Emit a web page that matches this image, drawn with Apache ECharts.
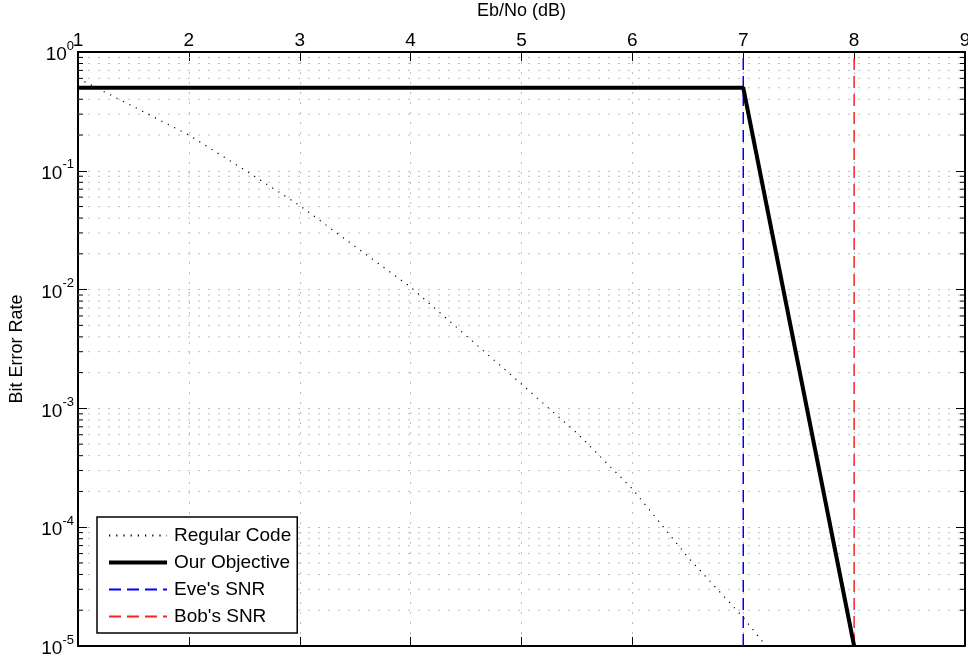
<!DOCTYPE html>
<html>
<head>
<meta charset="utf-8">
<script src="https://cdn.jsdelivr.net/npm/echarts@6/dist/echarts.min.js"></script>
<style>
  html, body { margin: 0; padding: 0; background: #fff; }
  #chart { width: 968px; height: 659px; }
</style>
</head>
<body>
<div id="chart"></div>
<script>
// data
var snr = [1, 1.5, 2, 2.5, 3, 3.5, 4, 4.5, 5, 5.5, 6, 6.5, 7, 7.5];
var regularBer = [0.6, 0.347, 0.2, 0.102, 0.051, 0.023, 0.0105, 0.0041, 0.0016, 0.00062, 0.00021, 0.000056, 0.0000174, 0.0000045];
var objectiveSnr = [1, 7, 8];
var objectiveBer = [0.5, 0.5, 0.00001];
var eveSnr = 7;
var bobSnr = 8;
var berRange = [0.00001, 1];
var decades = [-5, -4, -3, -2, -1];
var mantissas = [2, 3, 4, 5, 6, 7, 8, 9];

var minorValues = [];
decades.forEach(function (d) {
  mantissas.forEach(function (m) { minorValues.push([m * Math.pow(10, d)]); });
});

function pairs(xs, ys) {
  return xs.map(function (x, i) { return [x, ys[i]]; });
}

var font = 'Liberation Sans, Arial, Helvetica, sans-serif';
var gridDots = { color: '#bdbdbd', width: 1, type: [2, 8] };

var myChart = echarts.init(document.getElementById('chart'));

option = {
  animation: false,
  textStyle: { fontFamily: font },
  grid: { left: 78, top: 52, right: 3, bottom: 13, containLabel: false, outerBoundsMode: 'none' },
  legend: {
    data: [
      { name: 'Regular Code' },
      { name: 'Our Objective', lineStyle: { width: 4 } },
      { name: "Eve's SNR" },
      { name: "Bob's SNR" }
    ],
    orient: 'vertical',
    left: 97, top: 517,
    backgroundColor: '#fff',
    borderColor: '#000', borderWidth: 1.5,
    padding: [9, 6, 7, 10],
    itemWidth: 58, itemHeight: 14, itemGap: 8,
    itemStyle: { opacity: 0 },
    textStyle: { fontSize: 19, color: '#000', fontFamily: font, padding: [0, 0, 0, 2] }
  },
  xAxis: [
    {
      type: 'value', position: 'top', min: 1, max: 9, interval: 1,
      name: 'Eb/No (dB)', nameLocation: 'middle', nameGap: 32,
      nameTextStyle: { fontSize: 18, color: '#000' },
      axisLine: { lineStyle: { color: '#000', width: 2 } },
      axisTick: { inside: true, length: 9, lineStyle: { color: '#000', width: 1 } },
      axisLabel: { fontSize: 19, color: '#000', margin: 2 },
      splitLine: { show: true, lineStyle: gridDots }
    },
    {
      type: 'value', position: 'bottom', min: 1, max: 9, interval: 1,
      axisLine: { lineStyle: { color: '#000', width: 2 } },
      axisTick: { inside: true, length: 9, lineStyle: { color: '#000', width: 1 } },
      axisLabel: { show: false },
      splitLine: { show: false }
    }
  ],
  yAxis: [
    {
      type: 'log', logBase: 10, min: berRange[0], max: berRange[1], position: 'left',
      name: 'Bit Error Rate', nameLocation: 'middle', nameGap: 52, nameRotate: 90,
      nameTextStyle: { fontSize: 18, color: '#000' },
      axisLine: { show: true, lineStyle: { color: '#000', width: 2 } },
      axisTick: { inside: true, length: 9, lineStyle: { color: '#000', width: 1 } },
      axisLabel: {
        margin: 4, color: '#000',
        formatter: function (v) {
          return '{b|10}{s|' + Math.round(Math.log10(v)) + '}';
        },
        rich: {
          b: { fontSize: 19, color: '#000', fontFamily: font, padding: [6, 0, 0, 0] },
          s: { fontSize: 13, color: '#000', fontFamily: font, padding: [0, 0, 12, 0] }
        }
      },
      splitLine: { show: true, lineStyle: gridDots }
    },
    {
      type: 'log', logBase: 10, min: berRange[0], max: berRange[1], position: 'right',
      axisLine: { show: true, lineStyle: { color: '#000', width: 2 } },
      axisTick: { inside: true, length: 9, lineStyle: { color: '#000', width: 1 } },
      axisLabel: { show: false },
      splitLine: { show: false }
    }
  ],
  series: [
    {
      // minor log grid lines and minor ticks
      type: 'custom', name: 'minor', silent: true, z: 1,
      data: minorValues,
      encode: { y: 0 },
      renderItem: function (params, api) {
        var y = api.coord([1, api.value(0)])[1];
        var x0 = api.coord([1, 1])[0];
        var x1 = api.coord([9, 1])[0];
        var tick = { stroke: '#000', lineWidth: 1 };
        return {
          type: 'group',
          children: [
            { type: 'line', shape: { x1: x0, y1: y, x2: x1, y2: y }, style: { stroke: '#bdbdbd', lineWidth: 1, lineDash: [2, 8] } },
            { type: 'line', shape: { x1: x0, y1: y, x2: x0 + 5, y2: y }, style: tick },
            { type: 'line', shape: { x1: x1 - 5, y1: y, x2: x1, y2: y }, style: tick }
          ]
        };
      }
    },
    {
      name: 'Regular Code', type: 'line', showSymbol: false, symbol: 'none', smooth: false,
      data: pairs(snr, regularBer),
      lineStyle: { color: '#000', width: 1.2, type: [1.2, 6] },
      itemStyle: { color: '#000' }, z: 3
    },
    {
      name: "Eve's SNR", type: 'line', symbol: 'none',
      data: [[eveSnr, berRange[0]], [eveSnr, berRange[1]]],
      lineStyle: { color: '#0000ff', width: 1.5, type: [12, 6] },
      itemStyle: { color: '#0000ff' }, z: 3
    },
    {
      name: "Bob's SNR", type: 'line', symbol: 'none',
      data: [[bobSnr, berRange[0]], [bobSnr, berRange[1]]],
      lineStyle: { color: '#ff2222', width: 1.5, type: [12, 6] },
      itemStyle: { color: '#ff2222' }, z: 3
    },
    {
      name: 'Our Objective', type: 'line', symbol: 'none',
      data: pairs(objectiveSnr, objectiveBer),
      lineStyle: { color: '#000', width: 4 },
      itemStyle: { color: '#000' }, z: 4
    }
  ]
};

myChart.setOption(option, true);
</script>
</body>
</html>
